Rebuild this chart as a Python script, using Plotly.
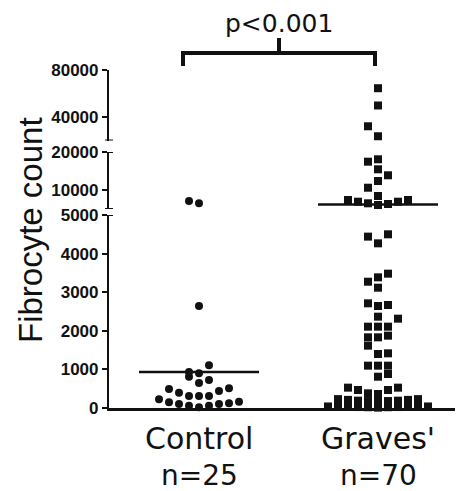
import plotly.graph_objects as go

# ---------------- data ----------------
categories = ["Control", "Graves'"]
n_labels = ["n=25", "n=70"]

control_values = [7100, 6500, 2640, 1105, 930, 900, 810, 650, 725,
                  492, 396, 311, 311, 311, 440, 510,
                  225, 148, 104, 60, 18, 60, 104, 122, 163]
control_slots = [-1, 0, 0, 1, -1, 0, -1, 0, 1,
                 -3, -2, -1, 0, 1, 2, 3,
                 -4, -3, -2, -1, 0, 1, 2, 3, 4]

graves_values = [64500, 49800, 32100, 23600,
                 17450, 18080, 15450, 13870, 12370, 10600, 8420,
                 7370, 6920, 6500, 6050, 6315, 6920, 7370,
                 4440, 4266, 4500,
                 3272, 3385, 3480, 3117,
                 2712, 2642, 2668,
                 2366, 2314,
                 2107, 2107, 2107,
                 1831, 1831, 1874,
                 1615,
                 1399, 1416,
                 1097, 1097, 1097,
                 811, 881,
                 527, 466, 380, 363, 466, 527,
                 230, 210, 190, 180, 170, 180, 190, 210, 230,
                 40, 35, 30, 25, 20, 10, 20, 25, 30, 35, 40]
graves_slots = [0, 0, -1, 0,
                -1, 0, 0, 1, 0, -1, 0,
                -3, -2, -1, 0, 1, 2, 3,
                -1, 0, 1,
                -1, 0, 1, 0,
                -1, 0, 1,
                0, 2,
                -1, 0, 1,
                -1, 0, 1,
                -1,
                0, 1,
                -1, 0, 1,
                0, 1,
                -3, -2, -1, 0, 1, 2,
                -4, -3, -2, -1, 0, 1, 2, 3, 4,
                -5, -4, -3, -2, -1, 0, 1, 2, 3, 4, 5]

group_means = [930, 6200]
p_text = "p<0.001"

lower_ticks = [0, 1000, 2000, 3000, 4000, 5000]
middle_ticks = [10000, 20000]
upper_ticks = [40000, 80000]

# ---------------- layout geometry ----------------
# the page adds an 8px body margin, so the figure is drawn 8px smaller
PAGE_OFF = 8
W, H = 463 - PAGE_OFF, 491 - PAGE_OFF
L, T = 109 - PAGE_OFF, 70 - PAGE_OFF
PW, PH = 354, 338
BOTTOM_PAGE = 408  # page y of the value 0 line


def fy(py):
    """page pixel y -> paper fraction"""
    return (BOTTOM_PAGE - py) / PH


def fx(px):
    """page pixel x -> paper fraction"""
    return (px - 109) / PW


SLOT = 10 / 179.0          # horizontal spacing of swarm points (data units)
XRANGE = [1 - 90 / 179.0, 1 + 264 / 179.0]

segments = [
    dict(name="y", rng=[0, 5000], dom=[0, fy(215)], ticks=lower_ticks),
    dict(name="y2", rng=[5000, 20000], dom=[fy(209), fy(152)], ticks=middle_ticks),
    dict(name="y3", rng=[20000, 80000], dom=[fy(140.5), 1.0], ticks=upper_ticks),
]


def seg_of(v):
    if v <= 5000:
        return "y"
    if v <= 20000:
        return "y2"
    return "y3"


fig = go.Figure()

groups = [
    (1, control_values, control_slots, "circle", 8),
    (2, graves_values, graves_slots, "square", 8),
]
for cx, vals, slots, sym, size in groups:
    for seg in segments:
        xs = [cx + s * SLOT for v, s in zip(vals, slots) if seg_of(v) == seg["name"]]
        ys = [v for v in vals if seg_of(v) == seg["name"]]
        if not xs:
            continue
        fig.add_trace(go.Scatter(
            x=xs, y=ys, mode="markers", xaxis="x", yaxis=seg["name"],
            marker=dict(symbol=sym, size=size, color="#111111", line=dict(width=0)),
            cliponaxis=False, showlegend=False, hoverinfo="y"))

# mean lines
for i, m in enumerate(group_means):
    cx = i + 1
    fig.add_trace(go.Scatter(
        x=[cx - 60 / 179.0, cx + 60 / 179.0], y=[m, m], mode="lines",
        xaxis="x", yaxis=seg_of(m), line=dict(color="#111111", width=2.5),
        cliponaxis=False, showlegend=False, hoverinfo="skip"))

tickfont = dict(family="Liberation Sans, Arial, sans-serif", size=17,
                color="#111111", weight="bold")

layout = dict(
    width=W, height=H,
    margin=dict(l=L, r=0, t=T, b=H - T - PH),
    paper_bgcolor="white", plot_bgcolor="white",
    showlegend=False,
    xaxis=dict(range=XRANGE, showgrid=False, zeroline=False, showline=True,
               linecolor="#111111", linewidth=2.5, showticklabels=False,
               ticks="", anchor="y", fixedrange=True),
)
for seg in segments:
    key = "yaxis" if seg["name"] == "y" else "yaxis" + seg["name"][1:]
    layout[key] = dict(
        domain=seg["dom"], range=seg["rng"], anchor="x",
        tickvals=seg["ticks"], ticktext=[str(t) for t in seg["ticks"]],
        showgrid=False, zeroline=False, showline=True,
        linecolor="#111111", linewidth=2.2, ticks="outside", ticklen=5,
        tickwidth=2, tickcolor="#111111", tickfont=tickfont)
fig.update_layout(**layout)

# axis break caps
cap = 4 / PW
for yref, yv in [("y", 5000), ("y2", 5000), ("y2", 20000), ("y3", 20000)]:
    fig.add_shape(type="line", xref="paper", yref=yref, x0=-cap, x1=cap,
                  y0=yv, y1=yv, line=dict(color="#111111", width=2))

# significance bracket
xl, xr, xc = 1 + (183 - 199) / 179.0, 2 + (375 - 378) / 179.0, 1 + (279 - 199) / 179.0
yb, ye, yt = fy(53), fy(66), fy(38)
fig.add_shape(type="path", xref="x", yref="paper",
              path=f"M {xl},{ye} L {xl},{yb} L {xr},{yb} L {xr},{ye} M {xc},{yb} L {xc},{yt}",
              line=dict(color="#111111", width=4))
fig.add_annotation(x=xc, xref="x", y=fy(23), yref="paper", text=p_text,
                   showarrow=False, xanchor="center", yanchor="middle",
                   font=dict(family="DejaVu Sans", size=25, color="#111111"))

# category labels
for i, (c, n) in enumerate(zip(categories, n_labels)):
    fig.add_annotation(x=i + 1, xref="x", y=fy(439), yref="paper", text=c,
                       showarrow=False, xanchor="center", yanchor="middle",
                       font=dict(family="DejaVu Sans", size=30, color="#111111"))
    fig.add_annotation(x=i + 1, xref="x", y=fy(475), yref="paper", text=n,
                       showarrow=False, xanchor="center", yanchor="middle",
                       font=dict(family="DejaVu Sans", size=28, color="#111111"))

# y-axis title
fig.add_annotation(x=fx(30), xref="paper", y=fy(230), yref="paper",
                   text="Fibrocyte count", textangle=-90, showarrow=False,
                   xanchor="center", yanchor="middle",
                   font=dict(family="Liberation Sans, Arial, sans-serif", size=33,
                             color="#111111"))

fig.write_html("out.html")
